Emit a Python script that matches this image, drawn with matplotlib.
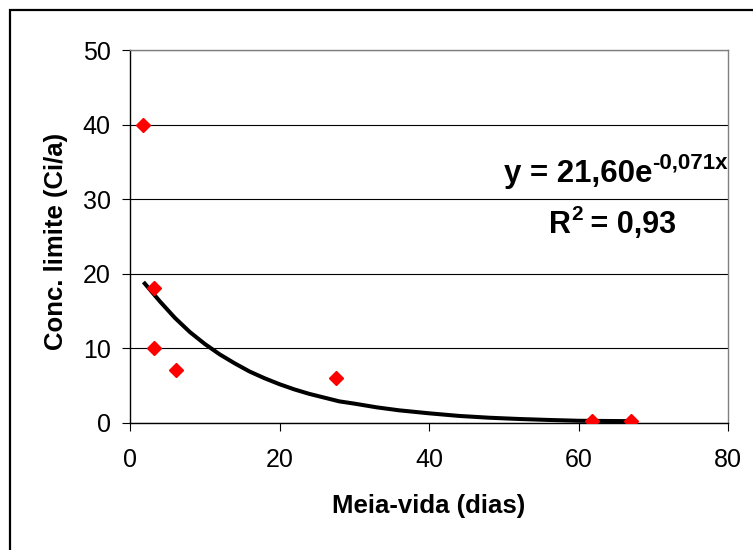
import matplotlib
matplotlib.use("Agg")
import matplotlib.pyplot as plt
from matplotlib.patches import Rectangle

plt.rcParams['font.family'] = ['Liberation Sans', 'DejaVu Sans']

# data
meia_vida = [1.8, 3.2, 3.2, 6.2, 27.5, 61.8, 67.0]
conc_limite = [40.0, 18.1, 10.0, 7.1, 6.0, 0.3, 0.3]

# trend line (exponential fit)
trend_x = [1.8, 4, 6, 8, 10, 12, 14, 16, 18, 20, 22, 24, 26, 28, 30, 33,
           36, 40, 44, 48, 52, 56, 60, 66.8]
trend_y = [18.9, 16.3, 14.1, 12.2, 10.6, 9.2, 8.0, 6.9, 6.0, 5.2, 4.5, 3.9,
           3.4, 2.9, 2.6, 2.1, 1.7, 1.3, 0.95, 0.71, 0.54, 0.41, 0.3, 0.25]

x_ticks = [0, 20, 40, 60, 80]
y_ticks = [0, 10, 20, 30, 40, 50]

W, H = 753, 550
fig = plt.figure(figsize=(W / 100, H / 100), dpi=100)
ax = fig.add_axes([130 / W, 1 - 423 / H, (728 - 130) / W, (423 - 50) / H])

# outer chart border (cropped at right/bottom)
fig.add_artist(Rectangle((9.5 / W, -0.1), 1.2, 1 - 9.5 / H + 0.1,
                         transform=fig.transFigure, fill=False,
                         edgecolor='black', linewidth=1.6))

ax.set_xlim(0, 80)
ax.set_ylim(0, 50)
ax.set_xticks(x_ticks)
ax.set_yticks(y_ticks)
ax.yaxis.grid(True, color='black', linewidth=0.8)
ax.set_axisbelow(True)

ax.plot(trend_x, trend_y, color='black', linewidth=2.9, zorder=3,
        solid_capstyle='butt')
ax.plot(meia_vida, conc_limite, linestyle='none', marker='D', markersize=7.5,
        color='#ff0000', zorder=4)

for s in ['top', 'right']:
    ax.spines[s].set_color('#808080')
for s in ['left', 'bottom']:
    ax.spines[s].set_color('black')
for s in ax.spines.values():
    s.set_linewidth(1.0)

ax.tick_params(axis='both', direction='out', length=5.8, width=0.8,
               labelsize=18)
ax.tick_params(axis='y', pad=8)
ax.tick_params(axis='x', pad=12)

fig.text(429 / W, 1 - 513 / H, 'Meia-vida (dias)', ha='center',
         va='baseline', fontsize=18.5, fontweight='bold')
fig.text(56 / W, 1 - 241 / H, 'Conc. limite (Ci/a)', ha='center',
         va='center', rotation=90, fontsize=18.5, fontweight='bold')

# equation labels
t1 = ax.text((652 - 130) / 598, (423 - 182) / 373, 'y = 21,60e',
             transform=ax.transAxes, ha='right', va='baseline',
             fontsize=22.5, fontweight='bold')
ax.annotate('-0,071x', xy=(1, (423 - 168) / 373),
            xycoords=(t1, 'axes fraction'), ha='left', va='baseline',
            fontsize=16, fontweight='bold')

r1 = ax.text((549 - 130) / 598, (423 - 233) / 373, 'R',
             transform=ax.transAxes, ha='left', va='baseline',
             fontsize=22, fontweight='bold')
r2 = ax.annotate('2', xy=(1, (423 - 220) / 373),
                 xycoords=(r1, 'axes fraction'), ha='left', va='baseline',
                 fontsize=15, fontweight='bold')
ax.annotate(' = 0,93', xy=(1, (423 - 233) / 373),
            xycoords=(r2, 'axes fraction'), ha='left', va='baseline',
            fontsize=22, fontweight='bold')

fig.savefig('out.png', dpi=100)
